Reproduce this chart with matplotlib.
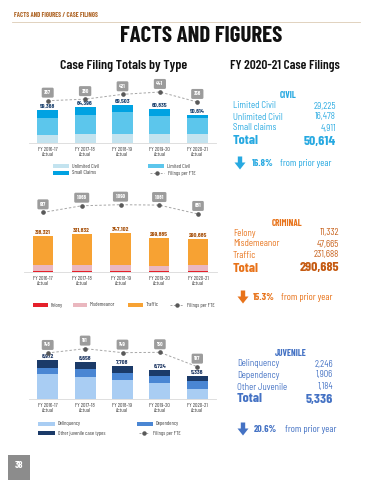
import numpy as np
import matplotlib
matplotlib.use("Agg")
import matplotlib.pyplot as plt
from matplotlib.patches import Rectangle, Polygon

plt.rcParams['font.family'] = ['Barlow Condensed', 'DejaVu Sans']
SEMI = ['Barlow Semi Condensed', 'Barlow Condensed', 'DejaVu Sans']

W, H = 370, 480

years = ["FY 2016-17\nActual", "FY 2017-18\nActual", "FY 2018-19\nActual",
         "FY 2019-20\nActual", "FY 2020-21\nActual"]

# civil filings (stack bottom -> top)
civil_unlimited = [14800, 15800, 16600, 15600, 16478]
civil_limited = [30900, 34000, 39800, 33600, 29225]
civil_small = [13668, 14596, 13103, 11635, 4911]
civil_fte = [367, 380, 421, 441, 356]

# criminal filings
crim_felony = [12000, 12500, 12500, 11800, 11332]
crim_misd = [49000, 52000, 52000, 40000, 47665]
crim_traffic = [257321, 267332, 282602, 248085, 231688]
crim_fte = [917, 1066, 1090, 1081, 881]

# juvenile filings
juv_delinq = [5750, 5180, 4394, 3632, 2246]
juv_depend = [1534, 1700, 1696, 1700, 1906]
juv_other = [1688, 1778, 1618, 1392, 1184]
juv_fte = [148, 161, 149, 150, 107]

civil_change = 16.8
crim_change = 15.3
juv_change = 20.6

CIVIL_C = '#27a9e1'
CRIM_C = '#e8731a'
JUV_C = '#4472c4'

fig = plt.figure(figsize=(W / 100, H / 100), dpi=100)
fig.patch.set_facecolor('white')

# background axes in pixel coordinates
bg = fig.add_axes([0, 0, 1, 1])
bg.set_xlim(0, W)
bg.set_ylim(H, 0)
bg.axis('off')


def px_axes(left, top, right, bottom):
    return fig.add_axes([left / W, 1 - bottom / H, (right - left) / W, (bottom - top) / H])


def draw_chart(box, px_per_unit, stacks, colors, fte, anchors, label_color, width):
    left, top, right, base = box
    ax = px_axes(left, top, right, base)
    x = np.arange(len(years))
    bottom = np.zeros(len(years))
    for vals, col in zip(stacks, colors):
        ax.bar(x, vals, width, bottom=bottom, color=col, linewidth=0)
        bottom += np.array(vals)
    ax.set_xlim(-0.5, 4.5)
    ax.set_ylim(0, (base - top) / px_per_unit)
    for s in ['top', 'left', 'right']:
        ax.spines[s].set_visible(False)
    ax.spines['bottom'].set_color('#d9d9d9')
    ax.spines['bottom'].set_linewidth(0.6)
    ax.set_yticks([])
    ax.set_xticks(x, years, fontsize=4.1, color='#404040', linespacing=1.0)
    ax.tick_params(axis='x', length=0, pad=3)
    ax.patch.set_alpha(0)
    for i, t in enumerate(bottom):
        ax.annotate(f"{int(t):,}", (i, t), xytext=(0, 0.8), textcoords='offset points',
                    ha='center', va='bottom', fontsize=4.6, color=label_color,
                    fontweight='bold')

    # filings per FTE on twin axis
    ax2 = ax.twinx()
    (v1, p1), (v2, p2) = anchors
    scale = (p2 - p1) / (v2 - v1)
    lo = v1 - p1 / scale
    ax2.set_ylim(lo, lo + (base - top) / scale)
    ax2.plot(x, fte, ls=(0, (2.5, 2)), color='#a6a6a6', lw=0.7)
    ax2.plot(x, fte, 'o', ms=2.3, color='#595959')
    ax2.axis('off')
    for i, v in enumerate(fte):
        ax2.annotate(f"{v:,}", (i, v), xytext=(0, 5.8), textcoords='offset points',
                     ha='center', va='center', fontsize=4.0, color='white',
                     fontweight='bold',
                     bbox=dict(boxstyle='round,pad=0.45,rounding_size=0.25',
                               fc='#9c9c9c', ec='none'))
    return ax


def legend_patch(x, y, color, label, w=16):
    bg.add_patch(Rectangle((x, y - 1.6), w, 3.2, color=color, lw=0))
    bg.text(x + w + 3, y, label, fontsize=4.0, color='#404040', va='center', ha='left')


def legend_line(x, y, label, w=14):
    bg.plot([x, x + w], [y, y], ls=(0, (2, 1.5)), color='#a6a6a6', lw=0.7)
    bg.plot([x + w / 2], [y], 'o', ms=2.2, color='#595959')
    bg.text(x + w + 4, y, label, fontsize=4.0, color='#404040', va='center', ha='left')


def down_arrow(cx, ytop, color):
    pts = [(cx - 2.2, ytop), (cx + 2.2, ytop), (cx + 2.2, ytop + 6),
           (cx + 5.5, ytop + 6), (cx, ytop + 13), (cx - 5.5, ytop + 6),
           (cx - 2.2, ytop + 6)]
    bg.add_patch(Polygon(pts, closed=True, color=color, lw=0))


def summary(title, title_xy, rows, counts, row_x, val_x, row_ys, total_y, color,
            val_color, change, arrow_x, arrow_y, pct_x, from_x):
    bg.text(title_xy[0], title_xy[1], title, fontsize=6.6, fontweight='bold',
            color=color, ha='center', va='center')
    for name, c, y in zip(rows, counts, row_ys):
        bg.text(row_x, y, name, fontsize=6.4, color=color, ha='left', va='center',
                family=SEMI)
        bg.text(val_x, y, f"{c:,}", fontsize=6.4, color=val_color, ha='right',
                va='center', family=SEMI)
    bg.text(row_x, total_y, "Total", fontsize=10, fontweight='bold', color=color,
            ha='left', va='center')
    bg.text(val_x, total_y, f"{sum(counts):,}", fontsize=10, fontweight='bold',
            color=val_color, ha='right', va='center')
    down_arrow(arrow_x, arrow_y - 6.5, color)
    bg.text(pct_x, arrow_y, f"{change}%", fontsize=7.2, fontweight='bold', color=color,
            ha='left', va='center')
    bg.text(from_x, arrow_y, "from prior year", fontsize=7.2, color=color,
            ha='left', va='center')


# header
bg.text(14, 15, "FACTS AND FIGURES / CASE FILINGS", fontsize=4.8, fontweight='bold',
        color='#b0682a', ha='left', va='center')
bg.plot([12, 360], [21.5, 21.5], color='#dccbb4', lw=0.6)
bg.text(201, 36, "FACTS AND FIGURES", fontsize=16.5, fontweight='bold', color='#111111',
        ha='center', va='center')
bg.text(124, 66, "Case Filing Totals by Type", fontsize=10, fontweight='semibold',
        color='#111111', ha='center', va='center')
bg.text(285, 66, "FY 2020-21 Case Filings", fontsize=9.6, fontweight='semibold',
        color='#111111', ha='center', va='center')

# civil chart
draw_chart((29, 78, 216, 143), 28 / 50614,
           [civil_unlimited, civil_limited, civil_small],
           ['#c3e3ef', '#5cc6ec', '#00a2e2'],
           civil_fte, [(356, 41), (441, 51)], '#1f4470', 0.56)
legend_patch(53, 166, '#c3e3ef', "Unlimited Civil")
legend_patch(148, 166, '#5cc6ec', "Limited Civil")
legend_patch(53, 173, '#00a2e2', "Small Claims")
legend_line(150, 173, "Filings per FTE")

# criminal chart
draw_chart((23.6, 196, 217.4, 272), 33 / 290685,
           [crim_felony, crim_misd, crim_traffic],
           ['#e5202a', '#eab7bf', '#f7a233'],
           crim_fte, [(881, 58), (1090, 67.3)], '#a8520c', 0.52)
legend_patch(33, 305, '#e5202a', "Felony", w=15)
legend_patch(73, 305, '#eab7bf', "Misdemeanor", w=14)
legend_patch(128, 305, '#f7a233', "Traffic", w=15)
legend_line(170, 305, "Filings per FTE", w=13)

# juvenile chart
draw_chart((29, 330, 216, 399), 23 / 5336,
           [juv_delinq, juv_depend, juv_other],
           ['#a9cdf3', '#4a86d3', '#1b3a68'],
           juv_fte, [(107, 32.3), (148, 46)], '#1f3864', 0.56)
legend_patch(38, 424, '#a9cdf3', "Delinquency", w=17)
legend_patch(137, 424, '#4a86d3', "Dependency", w=16)
legend_patch(38, 433, '#1b3a68', "Other juvenile case types", w=17)
legend_line(139, 433, "Filings per FTE", w=10)

# summaries
summary("CIVIL", (288, 95), ["Limited Civil", "Unlimited Civil", "Small claims"],
        [civil_limited[-1], civil_unlimited[-1], civil_small[-1]],
        233, 336, [106, 117, 128], 141, CIVIL_C, CIVIL_C, civil_change,
        240, 163, 252, 280)
summary("CRIMINAL", (287, 223), ["Felony", "Misdemeanor", "Traffic"],
        [crim_felony[-1], crim_misd[-1], crim_traffic[-1]],
        233, 339, [233, 244, 255], 268, CRIM_C, '#c55a11', crim_change,
        243, 297, 253, 281)
summary("JUVENILE", (291, 353), ["Delinquency", "Dependency", "Other Juvenile"],
        [juv_delinq[-1], juv_depend[-1], juv_other[-1]],
        237, 333, [364, 375, 387], 399, JUV_C, JUV_C, juv_change,
        243, 429, 254, 285)

# page number
bg.add_patch(Rectangle((8, 455), 22, 25, color='#8c8c8c', lw=0))
bg.text(19, 466, "38", fontsize=7, fontweight='bold', color='white', ha='center', va='center')

fig.savefig("out.png", dpi=100, facecolor='white')
